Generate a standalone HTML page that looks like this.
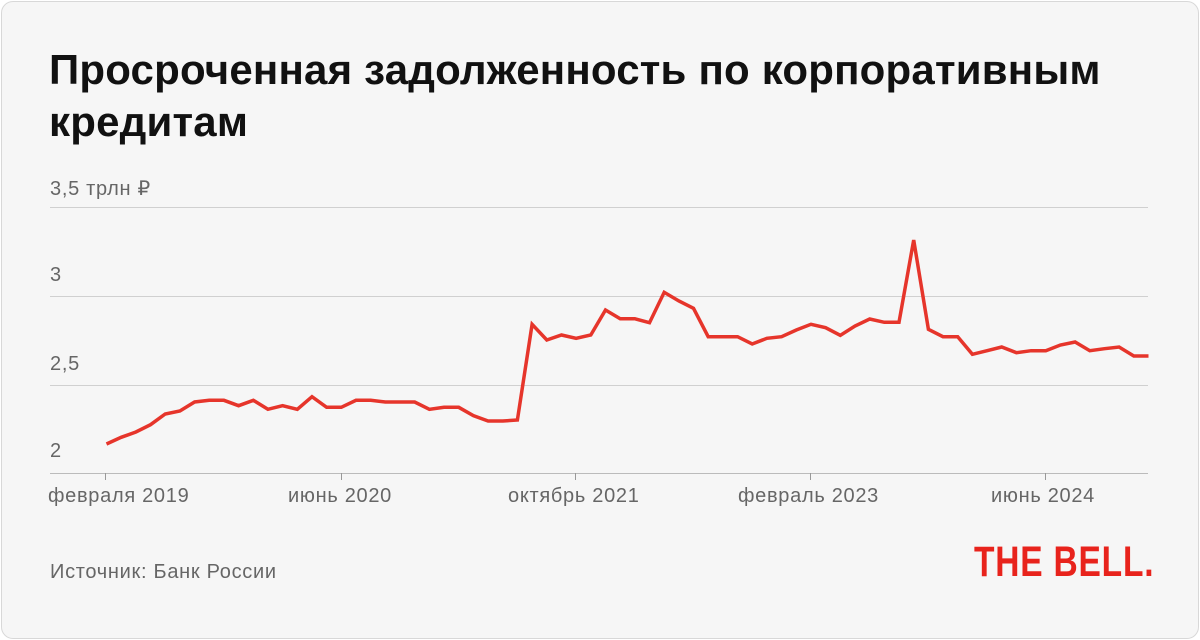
<!DOCTYPE html>
<html><head><meta charset="utf-8"><style>
html,body{margin:0;padding:0;background:#fff;}
body{width:1200px;height:640px;position:relative;overflow:hidden;font-family:"Liberation Sans",sans-serif;}
.card{position:absolute;left:1px;top:1px;width:1196px;height:636px;border:1px solid #d8d8d8;border-radius:12px;background:#f6f6f6;}
.t{position:absolute;left:49px;top:44px;font-size:42px;font-weight:bold;color:#111;line-height:52px;letter-spacing:0.2px;white-space:nowrap;}
.l{position:absolute;color:#666;font-size:20px;letter-spacing:0.7px;white-space:nowrap;}
.logo{position:absolute;left:974px;top:538px;font-size:43px;font-weight:bold;color:#e8231c;transform:scaleX(0.78);transform-origin:left top;letter-spacing:1px;white-space:nowrap;font-family:"Liberation Sans Narrow","Liberation Sans",sans-serif;}
</style></head><body>
<div class="card"></div>
<div class="t">Просроченная задолженность по корпоративным<br>кредитам</div>
<div class="l" style="left:50px;top:176px">3,5 трлн ₽</div>
<div class="l" style="left:50px;top:264px">3</div>
<div class="l" style="left:50px;top:353px">2,5</div>
<div class="l" style="left:50px;top:440px">2</div>
<div class="l" style="left:48px;top:485px">февраля 2019</div>
<div class="l" style="left:288px;top:485px">июнь 2020</div>
<div class="l" style="left:508px;top:485px">октябрь 2021</div>
<div class="l" style="left:738px;top:485px">февраль 2023</div>
<div class="l" style="left:991px;top:485px">июнь 2024</div>
<div class="l" style="left:50px;top:561px">Источник: Банк России</div>
<div class="logo">THE BELL.</div>
<svg width="1200" height="640" style="position:absolute;left:0;top:0">
<g stroke="#d0d0d0" stroke-width="1">
<line x1="50" y1="207.5" x2="1148" y2="207.5"/>
<line x1="50" y1="296.5" x2="1148" y2="296.5"/>
<line x1="50" y1="385.5" x2="1148" y2="385.5"/>
</g>
<line x1="50" y1="473.5" x2="1148" y2="473.5" stroke="#bbb"/>
<g stroke="#999" stroke-width="1">
<line x1="105.5" y1="473" x2="105.5" y2="480"/>
<line x1="341.5" y1="473" x2="341.5" y2="480"/>
<line x1="575.5" y1="473" x2="575.5" y2="480"/>
<line x1="810.5" y1="473" x2="810.5" y2="480"/>
<line x1="1045.5" y1="473" x2="1045.5" y2="480"/>
</g>
<polyline id="ln" fill="none" stroke="#e6352b" stroke-width="3.5" stroke-linejoin="miter" points=""/>
</svg>
<script>
var zy=[672,652,636,614,582,573,546,541,541,557,541,568,557,568,530,562,562,541,541,546,546,546,568,562,562,587,603,603,600,313,360,345,355,345,270,296,
296,308,217,243,265,350,350,350,372,355,350,330,313,323,346,318,297,307,307,60,328,350,350,403,392,381,398,392,392,375,366,392,386,381,408,408];
var p=[];var n=zy.length;
for(var i=0;i<n;i++){var x=106.5+i*(1148.5-106.5)/(n-1);p.push(x.toFixed(1)+","+(220+zy[i]/3).toFixed(1));}
document.getElementById("ln").setAttribute("points",p.join(" "));
</script>
</body></html>
